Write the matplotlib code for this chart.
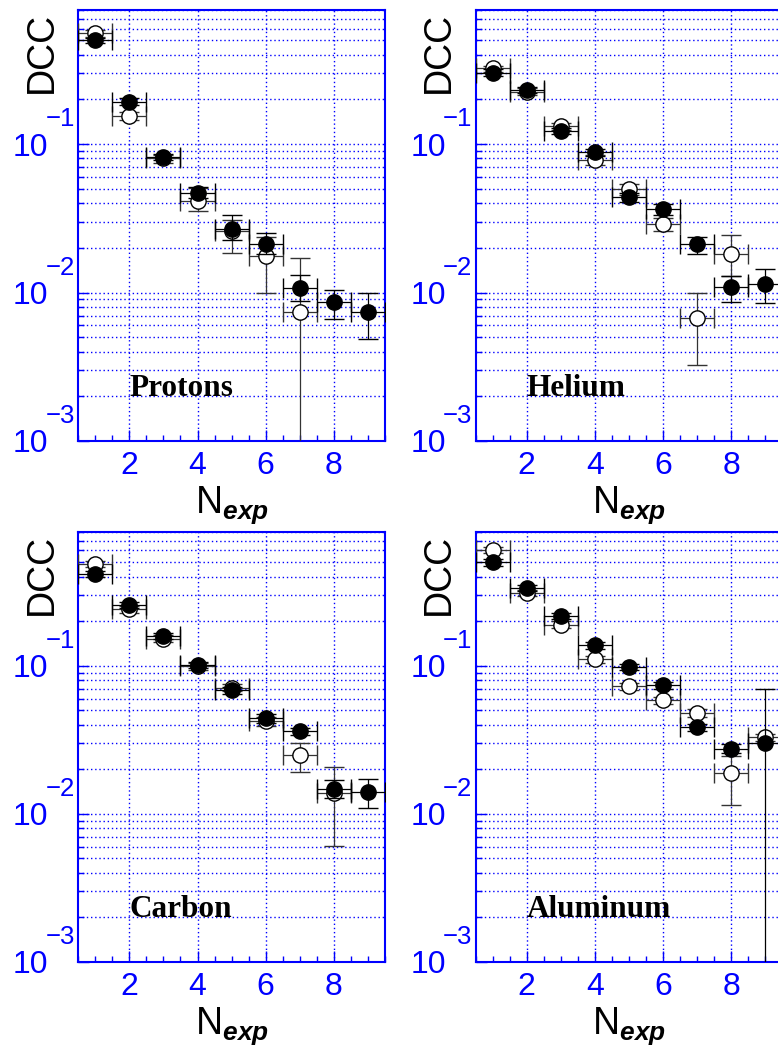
import matplotlib
matplotlib.use("Agg")
import matplotlib.pyplot as plt
import matplotlib.transforms as mtransforms
from matplotlib.ticker import MultipleLocator, LogLocator, NullFormatter
import numpy as np

# fuentes parecidas a las de ROOT
plt.rcParams['font.family'] = 'Liberation Sans'
plt.rcParams['mathtext.fontset'] = 'custom'
plt.rcParams['mathtext.rm'] = 'Liberation Sans'
plt.rcParams['mathtext.it'] = 'Liberation Sans:italic'
plt.rcParams['mathtext.bf'] = 'Liberation Sans:bold:italic'

# datos
n_full = [1, 2, 3, 4, 5, 6, 7, 8, 9]
bin_half = 0.5

protons_full = [0.50, 0.193, 0.082, 0.0465, 0.0266, 0.0211, 0.0108, 0.0086, 0.0074]
protons_full_lo = [0.02, 0.01, 0.004, 0.0035, 0.004, 0.003, 0.002, 0.002, 0.0025]
protons_full_hi = [0.02, 0.01, 0.004, 0.0045, 0.0066, 0.0042, 0.0023, 0.0018, 0.0025]
protons_n_open = [1, 2, 3, 4, 5, 6, 7]
protons_open = [0.557, 0.155, 0.080, 0.0413, 0.026, 0.0176, 0.0074]
protons_open_lo = [0.03, 0.01, 0.005, 0.0058, 0.0075, 0.0076, 0.0073]
protons_open_hi = [0.03, 0.01, 0.005, 0.009, 0.005, 0.006, 0.0098]

helium_full = [0.303, 0.231, 0.123, 0.0878, 0.0437, 0.0363, 0.0212, 0.0109, 0.0115]
helium_full_lo = [0.015, 0.012, 0.006, 0.005, 0.003, 0.003, 0.0031, 0.0022, 0.003]
helium_full_hi = [0.015, 0.012, 0.006, 0.005, 0.003, 0.003, 0.0023, 0.002, 0.003]
helium_n_open = [1, 2, 3, 4, 5, 6, 7, 8]
helium_open = [0.323, 0.225, 0.132, 0.078, 0.0495, 0.0289, 0.00675, 0.0181]
helium_open_lo = [0.015, 0.012, 0.007, 0.006, 0.004, 0.003, 0.0035, 0.0052]
helium_open_hi = [0.015, 0.012, 0.007, 0.006, 0.004, 0.003, 0.0031, 0.0063]

carbon_full = [0.415, 0.257, 0.159, 0.101, 0.0682, 0.0442, 0.036, 0.0147, 0.0141]
carbon_full_lo = [0.02, 0.012, 0.008, 0.005, 0.004, 0.003, 0.002, 0.002, 0.0032]
carbon_full_hi = [0.02, 0.012, 0.008, 0.005, 0.004, 0.003, 0.002, 0.0023, 0.0031]
carbon_n_open = [1, 2, 3, 4, 5, 6, 7, 8]
carbon_open = [0.486, 0.24, 0.152, 0.0989, 0.071, 0.0422, 0.0248, 0.0138]
carbon_open_lo = [0.025, 0.012, 0.008, 0.005, 0.004, 0.003, 0.0057, 0.0077]
carbon_open_hi = [0.025, 0.012, 0.008, 0.005, 0.004, 0.003, 0.0052, 0.0069]

aluminum_full = [0.499, 0.337, 0.216, 0.137, 0.0984, 0.0738, 0.0384, 0.0276, 0.0303]
aluminum_full_lo = [0.025, 0.015, 0.01, 0.007, 0.005, 0.004, 0.002, 0.002, 0.0302]
aluminum_full_hi = [0.025, 0.015, 0.01, 0.007, 0.005, 0.004, 0.002, 0.002, 0.0397]
aluminum_n_open = [1, 2, 3, 4, 5, 6, 7, 8, 9]
aluminum_open = [0.605, 0.311, 0.189, 0.111, 0.0727, 0.0583, 0.048, 0.0189, 0.0328]
aluminum_open_lo = [0.03, 0.015, 0.01, 0.006, 0.004, 0.003, 0.003, 0.0075, 0.002]
aluminum_open_hi = [0.03, 0.015, 0.01, 0.006, 0.004, 0.003, 0.003, 0.0057, 0.002]

names = ['Protons', 'Helium', 'Carbon', 'Aluminum']
y_ticks = [1e-3, 1e-2, 1e-1]
y_tick_base = ['10', '10', '10']
y_tick_exp = ['\u22123', '\u22122', '\u22121']
x_ticks = [2, 4, 6, 8]

paneles = [
    (protons_full, protons_full_lo, protons_full_hi, protons_n_open, protons_open, protons_open_lo, protons_open_hi),
    (helium_full, helium_full_lo, helium_full_hi, helium_n_open, helium_open, helium_open_lo, helium_open_hi),
    (carbon_full, carbon_full_lo, carbon_full_hi, carbon_n_open, carbon_open, carbon_open_lo, carbon_open_hi),
    (aluminum_full, aluminum_full_lo, aluminum_full_hi, aluminum_n_open, aluminum_open, aluminum_open_lo, aluminum_open_hi),
]

# posiciones de los cuatro paneles en fraccion de la figura
posiciones = [
    [0.1006, 0.5792, 0.3942, 0.4113],
    [0.6114, 0.5792, 0.3942, 0.4113],
    [0.1006, 0.0821, 0.3942, 0.4103],
    [0.6114, 0.0821, 0.3942, 0.4103],
]

fig = plt.figure(figsize=(7.78, 10.48), dpi=100)
azul = (0, 0, 1)
punteado = (0, (1, 2))

for pos, name, datos in zip(posiciones, names, paneles):
    full, full_lo, full_hi, n_open, opn, open_lo, open_hi = datos
    ax = fig.add_axes(pos)
    ax.set_yscale('log')
    ax.set_xlim(0.5, 9.5)
    ax.set_ylim(1e-3, 0.8)

    # puntos abiertos primero, los llenos encima
    ax.errorbar(n_open, opn, yerr=[open_lo, open_hi], xerr=bin_half, fmt='o', ms=11,
                mfc='white', mec='black', mew=1, ecolor='#333333', elinewidth=0.9,
                capsize=7, capthick=0.9, zorder=3)
    ax.errorbar(n_full, full, yerr=[full_lo, full_hi], xerr=bin_half, fmt='o', ms=11,
                mfc='black', mec='black', mew=1, ecolor='black', elinewidth=0.9,
                capsize=7, capthick=0.9, zorder=4)

    # ejes y grilla
    ax.set_yticks(y_ticks, labels=y_tick_base)
    ax.yaxis.set_minor_locator(LogLocator(base=10, subs=np.arange(2, 10), numticks=20))
    ax.yaxis.set_minor_formatter(NullFormatter())
    ax.set_xticks(x_ticks)
    ax.xaxis.set_minor_locator(MultipleLocator(0.5))
    ax.grid(True, which='both', axis='y', color=azul, linestyle=punteado, linewidth=1)
    ax.grid(True, which='major', axis='x', color=azul, linestyle=punteado, linewidth=1)
    ax.set_axisbelow(True)
    for s in ax.spines.values():
        s.set_color(azul)
        s.set_linewidth(1.5)
    ax.tick_params(which='both', direction='in', color=azul, labelcolor=azul, width=1,
                   top=False, right=False)
    ax.tick_params(which='major', length=8)
    ax.tick_params(which='minor', length=4.5)
    ax.tick_params(axis='y', labelsize=23, pad=21.5)
    ax.tick_params(axis='x', labelsize=23, pad=7)

    # exponentes de las etiquetas 10^n, estilo ROOT (mas arriba que el "10")
    desplaza = mtransforms.ScaledTranslation(-0.33, 0.18, fig.dpi_scale_trans)
    for yv, ex in zip(y_ticks, y_tick_exp):
        ax.text(0, yv, ex, transform=ax.get_yaxis_transform() + desplaza,
                fontsize=18.5, color=azul, ha='left', va='baseline', clip_on=False)

    ax.set_ylabel('DCC', fontsize=27, color='black', loc='top')
    ax.yaxis.set_label_coords(-0.06, 0.995)
    ax.set_xlabel(r'N$_{\mathbf{exp}}$', fontsize=27, color='black')
    ax.xaxis.set_label_coords(0.5, -0.10)

    ax.text(2, 2e-3, name, fontfamily='Liberation Serif', fontweight='bold',
            fontsize=22.5, ha='left', va='baseline', zorder=5)

fig.savefig('out.png', dpi=100)
